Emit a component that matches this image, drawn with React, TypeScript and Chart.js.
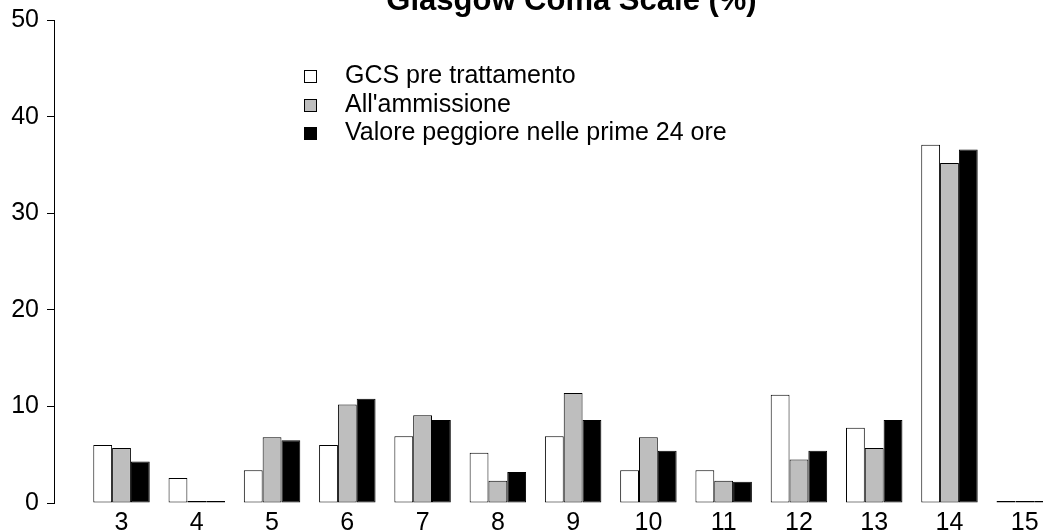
import { useEffect, useRef } from "react";
import { Chart, registerables } from "chart.js";

Chart.register(...registerables);

const categories = [3, 4, 5, 6, 7, 8, 9, 10, 11, 12, 13, 14, 15];
const gcsPre = [6.0, 2.6, 3.4, 6.0, 6.9, 5.2, 6.9, 3.4, 3.4, 11.2, 7.8, 37.1, 0];
const admission = [5.7, 0, 6.8, 10.2, 9.1, 2.3, 11.4, 6.8, 2.3, 4.5, 5.7, 35.2, 0];
const worst24h = [4.3, 0, 6.5, 10.8, 8.6, 3.2, 8.6, 5.4, 2.2, 5.4, 8.6, 36.6, 0];
const seriesNames = ["GCS pre trattamento", "All'ammissione", "Valore peggiore nelle prime 24 ore"];
const seriesColors = ["#ffffff", "#bebebe", "#000000"];
const seriesValues = [gcsPre, admission, worst24h];
const titleText = "Glasgow Coma Scale (%)";
const yMin = 0;
const yMax = 50;
const yStep = 10;

const FONT = '"Liberation Sans", Arial, Helvetica, sans-serif';
const X_MIN = 2.103;
const X_MAX = 16.571;

const legendPlugin = {
  id: "customLegend",
  afterDraw(chart: any) {
    const { ctx, chartArea } = chart;
    ctx.save();
    const boxX = chartArea.left + 250;
    const textX = chartArea.left + 291;
    const firstBase = chartArea.top + 63;
    const rowGap = 28.3;
    ctx.font = `25px ${FONT}`;
    ctx.textBaseline = "alphabetic";
    ctx.textAlign = "left";
    chart.data.datasets.forEach((ds: any, i: number) => {
      const base = firstBase + i * rowGap;
      const boxTop = Math.round(base - 13);
      ctx.fillStyle = ds.backgroundColor;
      ctx.fillRect(boxX, boxTop, 13, 13);
      ctx.strokeStyle = "#000";
      ctx.lineWidth = 1;
      ctx.strokeRect(boxX + 0.5, boxTop + 0.5, 12, 12);
      ctx.fillStyle = "#000";
      ctx.fillText(ds.label, textX, base);
    });
    ctx.restore();
  },
};

export default function App() {
  const ref = useRef<HTMLCanvasElement>(null);
  useEffect(() => {
    const chart = new Chart(ref.current as HTMLCanvasElement, {
      type: "bar",
      data: {
        datasets: seriesNames.map((name, i) => ({
          label: name,
          data: categories.map((c, j) => ({ x: c, y: seriesValues[i][j] })),
          backgroundColor: seriesColors[i],
          borderColor: "#000",
          borderWidth: 1,
          borderSkipped: false,
          minBarLength: 2,
          clip: { left: false, top: false, right: false, bottom: 0 },
          categoryPercentage: 0.75,
          barPercentage: 1,
        })),
      } as any,
      options: {
        animation: false,
        responsive: true,
        maintainAspectRatio: false,
        layout: { padding: 0 },
        plugins: {
          legend: { display: false },
          tooltip: { enabled: false },
          title: {
            display: true,
            text: titleText,
            color: "#000",
            font: { size: 31, weight: "bold", family: FONT },
            padding: { top: 0, bottom: 0 },
          },
        },
        scales: {
          x: {
            type: "linear",
            min: X_MIN,
            max: X_MAX,
            offset: false,
            grid: { display: false, drawTicks: false },
            border: { display: false },
            ticks: {
              color: "#000",
              font: { size: 25, family: FONT },
              padding: 5,
              maxRotation: 0,
              autoSkip: false,
            },
            afterBuildTicks: (s: any) => {
              s.ticks = categories.map((v) => ({ value: v }));
            },
            afterFit: (s: any) => {
              s.height = 40;
            },
          },
          y: {
            min: yMin,
            max: yMax,
            ticks: {
              stepSize: yStep,
              color: "#000",
              font: { size: 25, family: FONT },
              padding: 8,
            },
            grid: { drawOnChartArea: false, drawTicks: true, tickLength: 7, color: "#000" },
            border: { display: true, color: "#000", width: 1 },
            afterFit: (s: any) => {
              s.width = 54;
            },
          },
        },
      } as any,
      plugins: [legendPlugin],
    });
    return () => chart.destroy();
  }, []);
  return (
    <div style={{ position: "fixed", left: 0, top: 0, width: 1043, height: 532, overflow: "hidden", background: "#fff" }}>
      <div style={{ position: "absolute", left: 0, top: -17, width: 1143, height: 560 }}>
        <canvas ref={ref} />
      </div>
    </div>
  );
}
